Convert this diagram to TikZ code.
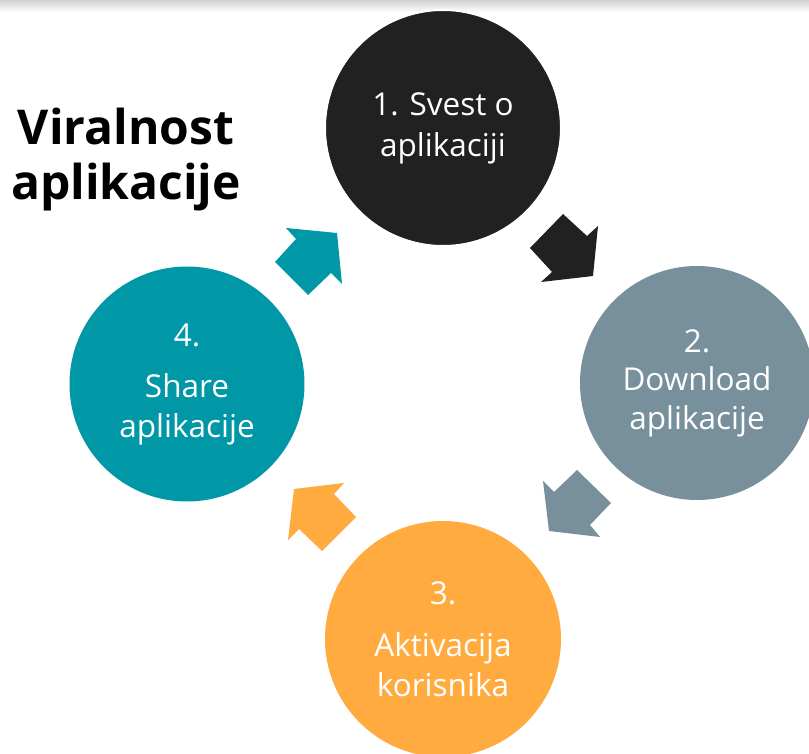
\documentclass[tikz,border=0pt]{standalone}
\usepackage{fontspec}
\setmainfont{Open Sans}
\definecolor{cblack}{HTML}{212121}
\definecolor{cgray}{HTML}{78909C}
\definecolor{corange}{HTML}{FFAB40}
\definecolor{cteal}{HTML}{0097A7}
\begin{document}
\begin{tikzpicture}[x=1pt,y=-1pt,
  stepcircle/.style={circle,minimum size=236pt,inner sep=0pt,text=white,align=center,font=\fontsize{31.5}{40}\selectfont}]
\useasboundingbox (0,0) rectangle (809,754);
\fill[white] (0,0) rectangle (809,754);
\shade[top color=black!18,bottom color=white] (0,0) rectangle (809,12);
% circles
\node[stepcircle,fill=cblack,draw=white,line width=2pt,font=\fontsize{31.5}{41}\selectfont] (c1) at (443,128) {1. Svest o\\aplikaciji};
\node[stepcircle,fill=cgray,minimum size=234pt,font=\fontsize{31.5}{38.5}\selectfont] (c2) at (697,383) {2.\\Download\\aplikacije};
\node[stepcircle,fill=corange] (c3) at (443,639) {3.\\[12pt]Aktivacija\\korisnika};
\node[stepcircle,fill=cteal,minimum size=235pt,font=\fontsize{31.5}{39.5}\selectfont] (c4) at (187,384) {4.\\[12pt]Share\\aplikacije};
% title
\node[font=\bfseries\fontsize{48}{55}\selectfont,align=center] (title) at (126,160) {Viralnost\\aplikacije};
% arrows
\fill[cblack] (563,214) -- (587,236) -- (598,226) -- (593,276) -- (541,282) -- (552,272) -- (530,248) -- cycle;
\fill[cgray] (611,503) -- (590,525) -- (600,537) -- (549,531) -- (543,481) -- (554,492) -- (577,470) -- cycle;
\fill[corange] (322,551) -- (299,529) -- (288,540) -- (294,489) -- (344,483) -- (334,494) -- (356,517) -- cycle;
\fill[cteal] (308,295) -- (331,273) -- (342,284) -- (337,233) -- (286,228) -- (296,239) -- (275,262) -- cycle;
\end{tikzpicture}
\end{document}
